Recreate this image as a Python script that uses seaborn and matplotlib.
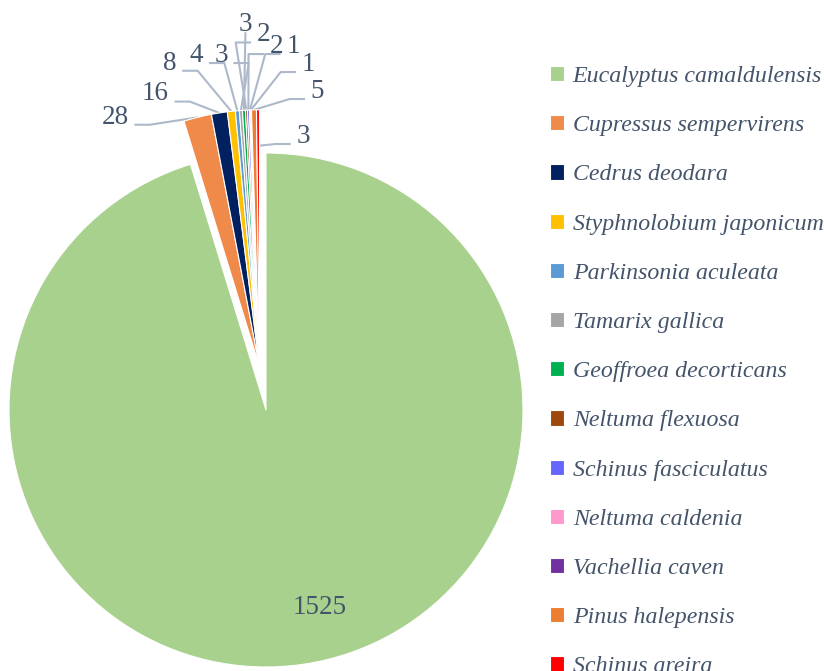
import numpy as np
import matplotlib
matplotlib.use("Agg")
import matplotlib.pyplot as plt
import seaborn as sns

# tree counts per species
species = [
    "Eucalyptus camaldulensis", "Cupressus sempervirens", "Cedrus deodara",
    "Styphnolobium japonicum", "Parkinsonia aculeata", "Tamarix gallica",
    "Geoffroea decorticans", "Neltuma flexuosa", "Schinus fasciculatus",
    "Neltuma caldenia", "Vachellia caven", "Pinus halepensis", "Schinus areira",
]
counts = [1525, 28, 16, 8, 4, 3, 3, 2, 2, 1, 1, 5, 3]

colors = ["#A9D18E", "#F08A4B", "#002060", "#FFC000", "#5B9BD5", "#A5A5A5",
          "#00B050", "#9E480E", "#6666FF", "#FF99CC", "#7030A0", "#ED7D31",
          "#FF0000"]

# label text positions (layout, in pie-radius units)
label_pos = [(0.21, -0.77), (-0.588, 1.14), (-0.432, 1.23), (-0.374, 1.35),
             (-0.27, 1.38), (-0.175, 1.38), (-0.08, 1.50), (-0.01, 1.46),
             (0.04, 1.415), (0.105, 1.415), (0.165, 1.345), (0.20, 1.24),
             (0.145, 1.065)]
explode_amt = 0.17

sns.set_theme(style="white")
plt.rcParams["font.family"] = ["Liberation Serif", "DejaVu Serif"]
text_color = "#44546A"
line_color = "#ADB9CA"

fig = plt.figure(figsize=(8.24, 6.71), dpi=100)
ax = fig.add_axes([0, 0, 1, 1])

wedges, _ = ax.pie(counts, colors=colors, startangle=90, counterclock=False,
                   radius=1.0,
                   wedgeprops=dict(edgecolor="white", linewidth=0.8))

# pull the small slices out together, along the middle of the group
small = wedges[1:]
group_mid = np.deg2rad((min(w.theta1 for w in small) + max(w.theta2 for w in small)) / 2)
shift = (explode_amt * np.cos(group_mid), explode_amt * np.sin(group_mid))
for w in small:
    w.set_center(shift)

ax.set_xlim(-266 / 257, (824 - 266) / 257)
ax.set_ylim(-261 / 257, (671 - 261) / 257)
ax.set_aspect("auto")
ax.axis("off")

# value labels with leader lines
for i, (w, n) in enumerate(zip(wedges, counts)):
    tx, ty = label_pos[i]
    ax.text(tx, ty, str(n), ha="center", va="center", fontsize=19.5,
            color=text_color)
    if i == 0:
        continue
    theta = np.deg2rad((w.theta1 + w.theta2) / 2)
    r = 1.0 if i < len(counts) - 1 else 0.86
    px, py = shift[0] + r * np.cos(theta), shift[1] + r * np.sin(theta)
    half = 0.028 * len(str(n)) + 0.02
    if tx < px - 0.02:
        x0 = tx + half
        x1 = x0 + 0.06
    elif tx > px + 0.02:
        x0 = tx - half
        x1 = x0 - 0.06
    else:
        x0 = x1 = tx
    yl = ty - 0.03
    ax.plot([x0, x1, px], [yl, yl, py], color=line_color, lw=1.5,
            solid_capstyle="butt", zorder=0)

leg = ax.legend(wedges, species, loc="upper left",
                bbox_to_anchor=(550 / 824, 1 - 66 / 671),
                bbox_transform=fig.transFigure, frameon=False,
                handlelength=0.6, handleheight=0.6, handletextpad=0.35,
                labelspacing=1.18, borderpad=0, borderaxespad=0,
                prop=dict(family="Liberation Serif", style="italic", size=17.2))
for t in leg.get_texts():
    t.set_color(text_color)

fig.savefig("out.png", dpi=100)
